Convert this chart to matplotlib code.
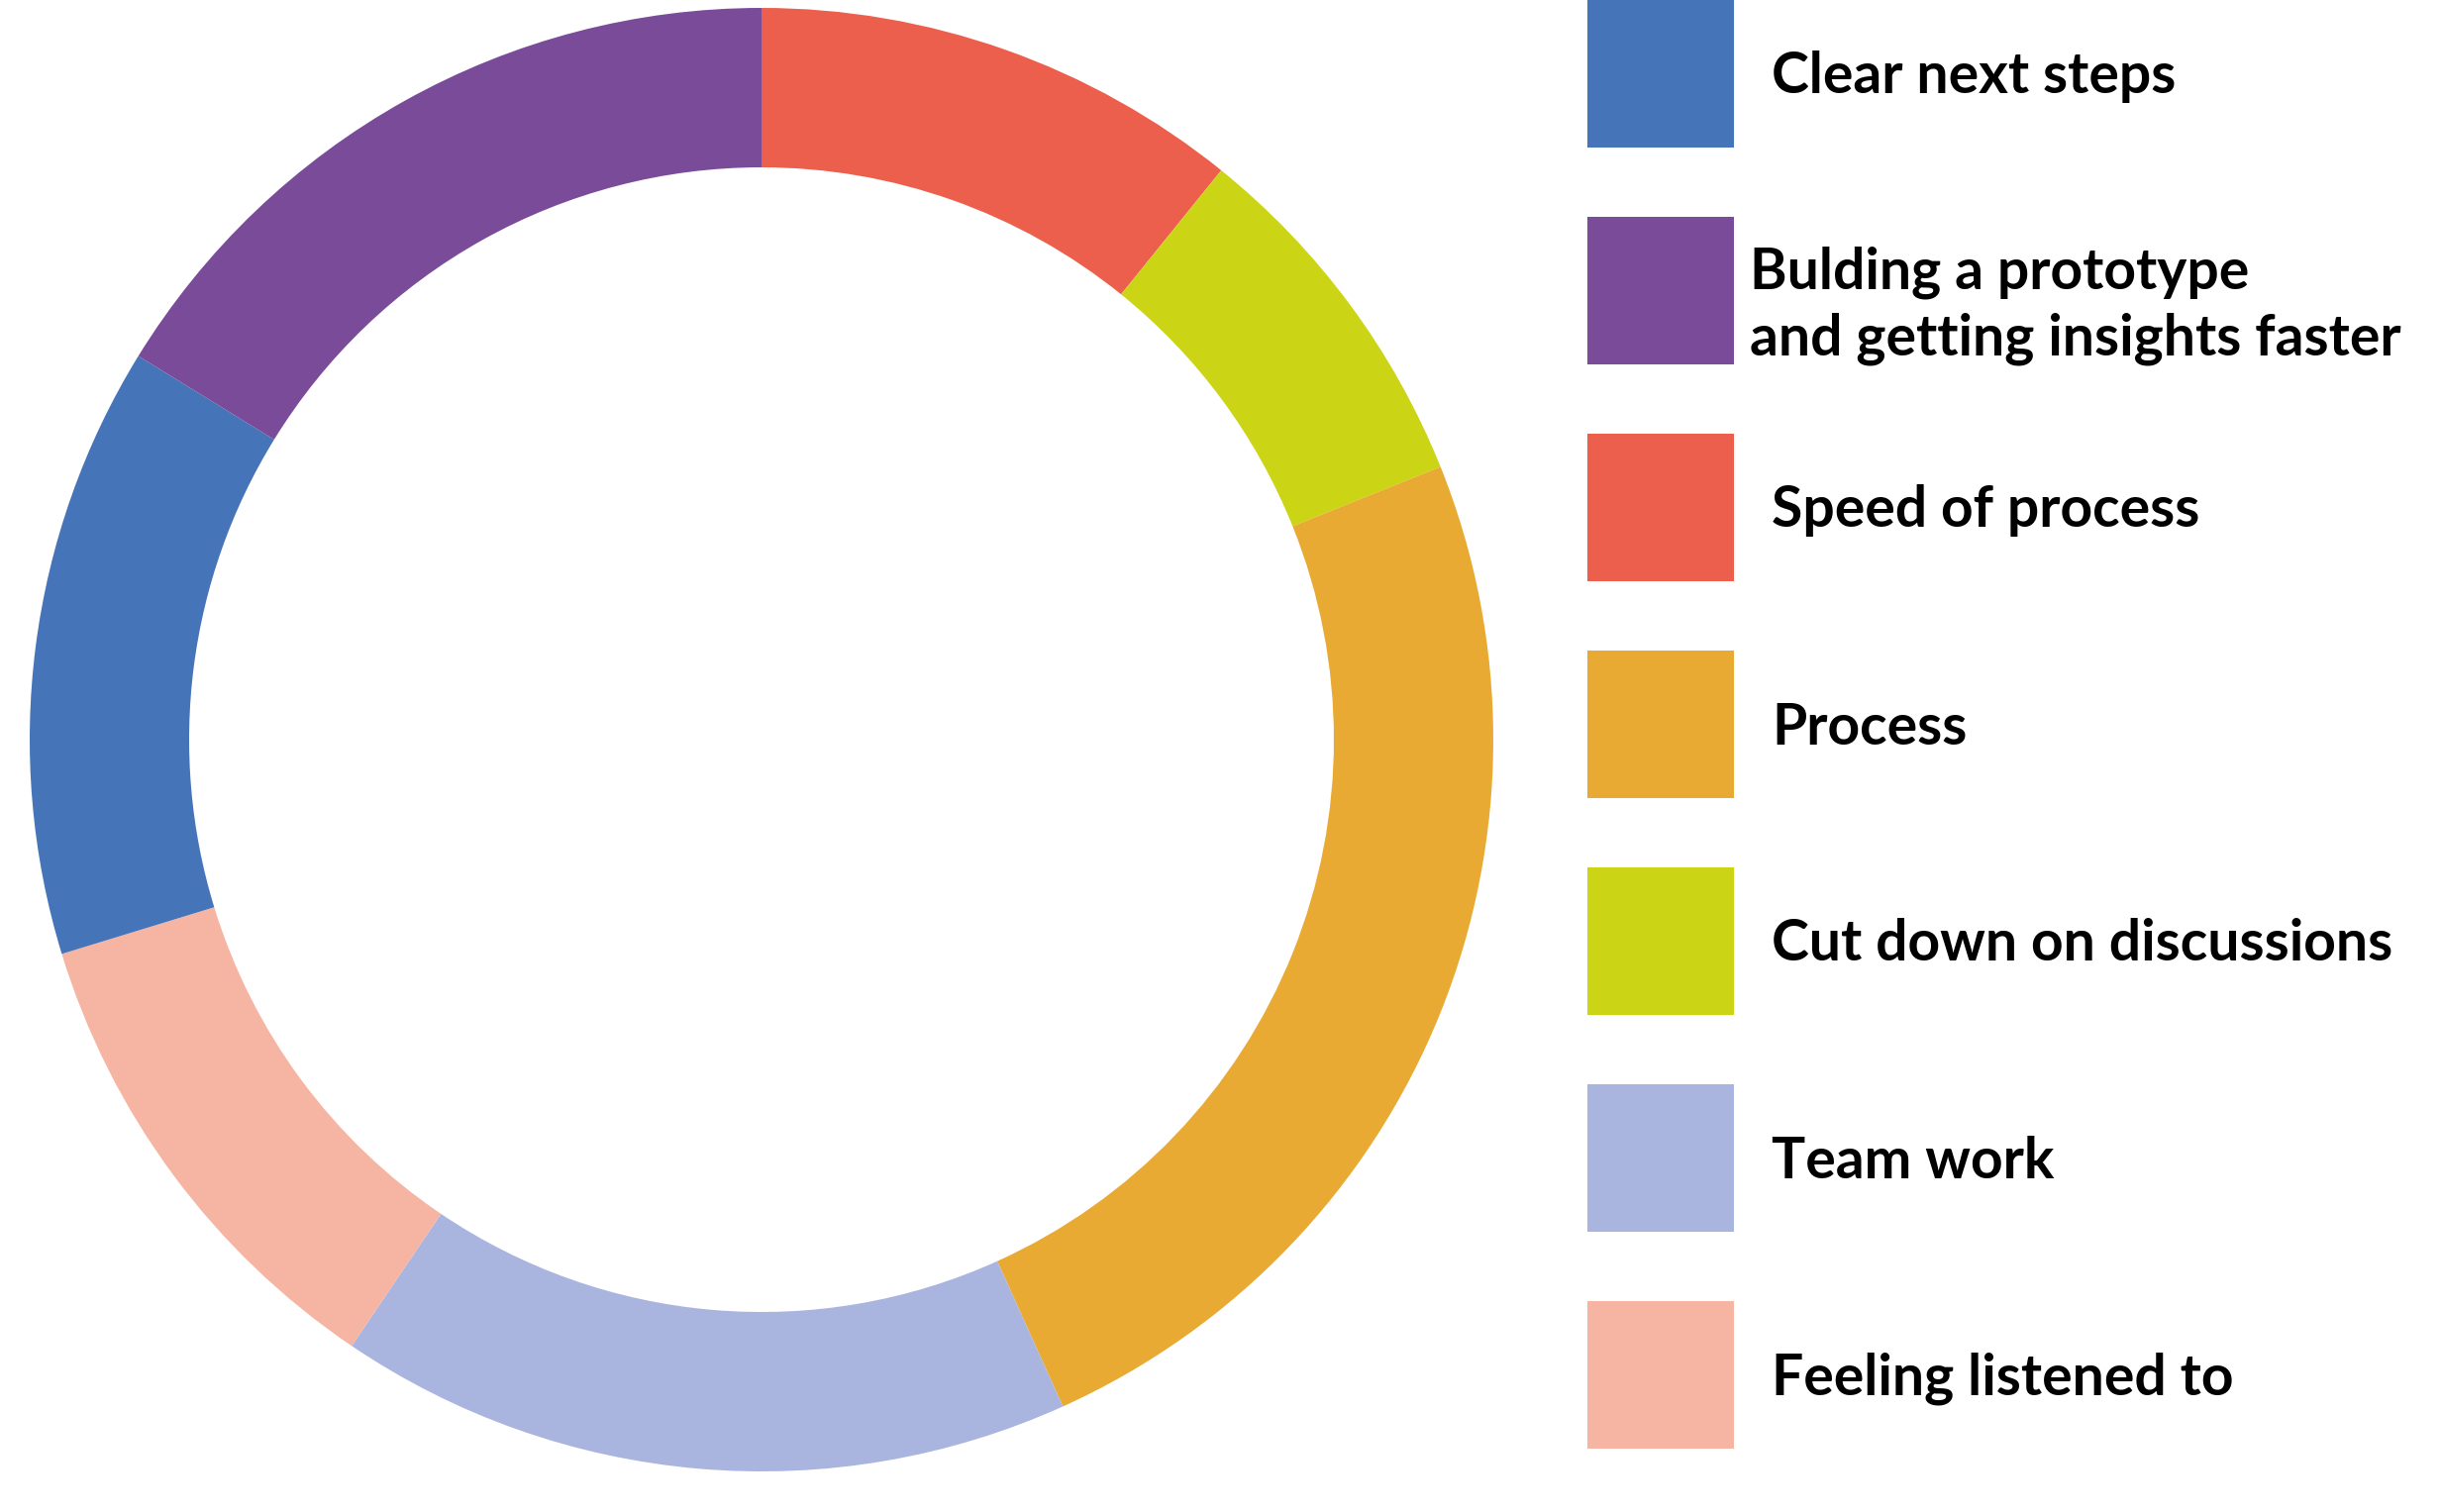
import matplotlib
matplotlib.use("Agg")
import matplotlib.pyplot as plt
from matplotlib.patches import Rectangle

# Data (clockwise from 12 o'clock)
pie_labels = ["Speed of process", "Cut down on discussions", "Process", "Team work",
              "Feeling listened to", "Clear next steps",
              "Bulding a prototype\nand getting insights faster"]
pie_values = [4, 3, 9, 6, 4, 5, 6]
pie_colors = ["#EC5F4D", "#CCD515", "#E8AA33", "#AAB5DF", "#F6B5A2", "#4674B8", "#7A4B98"]

# Legend order
legend_labels = ["Clear next steps", "Bulding a prototype\nand getting insights faster",
                 "Speed of process", "Process", "Cut down on discussions",
                 "Team work", "Feeling listened to"]

W, H = 2464, 1527
fig = plt.figure(figsize=(W / 100, H / 100), dpi=100)
fig.patch.set_facecolor("white")

# Donut
cx, cy, R, r_in = 769, 747, 739, 578
ax = fig.add_axes([(cx - R) / W, (H - cy - R) / H, 2 * R / W, 2 * R / H])
ax.pie(pie_values, colors=pie_colors, startangle=90, counterclock=False,
       radius=1.0, wedgeprops=dict(width=1 - r_in / R, linewidth=0))
ax.set_xlim(-1, 1)
ax.set_ylim(-1, 1)
ax.set_aspect("equal")
ax.axis("off")

# Legend drawn in pixel coordinates
lax = fig.add_axes([0, 0, 1, 1])
lax.set_xlim(0, W)
lax.set_ylim(H, 0)
lax.axis("off")
color_of = dict(zip(pie_labels, pie_colors))
top0, step, pw, ph, px = 0, 219, 148, 149, 1603
fs = 41
for i, lab in enumerate(legend_labels):
    top = top0 + i * step
    lax.add_patch(Rectangle((px, top), pw, ph, facecolor=color_of[lab], edgecolor="none"))
    mid = top + ph / 2
    if "\n" in lab:
        l1, l2 = lab.split("\n")
        lax.text(1767, mid - 2, l1, fontsize=fs, fontweight="bold", family="Lato",
                 va="baseline", ha="left", color="black")
        lax.text(1767, mid + 65, l2, fontsize=fs, fontweight="bold", family="Lato",
                 va="baseline", ha="left", color="black")
    else:
        lax.text(1789, mid + 20, lab, fontsize=fs, fontweight="bold", family="Lato",
                 va="baseline", ha="left", color="black")

fig.savefig("out.png", dpi=100, facecolor="white")
